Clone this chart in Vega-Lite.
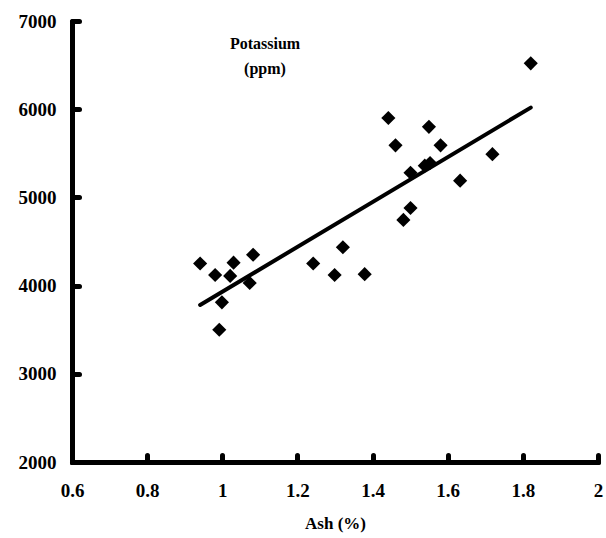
{
  "$schema": "https://vega.github.io/schema/vega-lite/v6.json",
  "autosize": "none",
  "width": 526,
  "height": 441,
  "padding": {"left": 72, "top": 21, "right": 8, "bottom": 76},
  "background": "white",
  "config": {
    "view": {"stroke": null},
    "font": "Liberation Serif",
    "axis": {
      "grid": false,
      "domainColor": "black",
      "domainWidth": 5,
      "domainCap": "round",
      "tickColor": "black",
      "tickWidth": 5,
      "tickCap": "round",
      "tickSize": -7,
      "labelFont": "Liberation Serif",
      "labelFontWeight": "bold",
      "labelFontSize": 19,
      "labelColor": "black",
      "titleFont": "Liberation Serif",
      "titleFontWeight": "bold",
      "titleFontSize": 17,
      "titleColor": "black"
    }
  },
  "title": {
    "text": ["Potassium", "(ppm)"],
    "font": "Liberation Serif",
    "fontWeight": "bold",
    "fontSize": 16,
    "lineHeight": 25,
    "color": "black",
    "anchor": "middle",
    "dx": -70,
    "dy": 65,
    "offset": 0
  },
  "datasets": {
    "pts": [
      {"ash": 0.941, "k": 4250},
      {"ash": 0.981, "k": 4120},
      {"ash": 1.03, "k": 4260},
      {"ash": 1.021, "k": 4110},
      {"ash": 1.082, "k": 4350},
      {"ash": 1.073, "k": 4030},
      {"ash": 0.999, "k": 3810},
      {"ash": 0.992, "k": 3500},
      {"ash": 1.242, "k": 4250},
      {"ash": 1.299, "k": 4120},
      {"ash": 1.321, "k": 4435},
      {"ash": 1.379, "k": 4130},
      {"ash": 1.442, "k": 5900},
      {"ash": 1.461, "k": 5590},
      {"ash": 1.55, "k": 5800},
      {"ash": 1.581, "k": 5590},
      {"ash": 1.501, "k": 5280},
      {"ash": 1.539, "k": 5360},
      {"ash": 1.553, "k": 5390},
      {"ash": 1.501, "k": 4880},
      {"ash": 1.482, "k": 4745},
      {"ash": 1.633, "k": 5190},
      {"ash": 1.719, "k": 5490},
      {"ash": 1.821, "k": 6520}
    ],
    "fit": [
      {"ash": 0.941, "k": 3780},
      {"ash": 1.821, "k": 6018}
    ]
  },
  "layer": [
    {
      "data": {"name": "fit"},
      "mark": {"type": "line", "color": "black", "strokeWidth": 4, "strokeCap": "round"},
      "encoding": {
        "x": {"field": "ash", "type": "quantitative", "scale": {"domain": [0.6, 2], "nice": false, "zero": false},
          "axis": {"title": "Ash (%)", "format": "~g", "values": [0.6, 0.8, 1, 1.2, 1.4, 1.6, 1.8, 2], "labelPadding": 26, "titlePadding": 15, "labelFlush": false}},
        "y": {"field": "k", "type": "quantitative", "scale": {"domain": [2000, 7000], "nice": false, "zero": false},
          "axis": {"title": null, "format": "d", "values": [2000, 3000, 4000, 5000, 6000, 7000], "labelPadding": 23, "labelFlush": false}}
      }
    },
    {
      "data": {"name": "pts"},
      "mark": {"type": "point", "shape": "diamond", "filled": true, "color": "black", "size": 200, "opacity": 1},
      "encoding": {
        "x": {"field": "ash", "type": "quantitative"},
        "y": {"field": "k", "type": "quantitative"}
      }
    }
  ]
}
